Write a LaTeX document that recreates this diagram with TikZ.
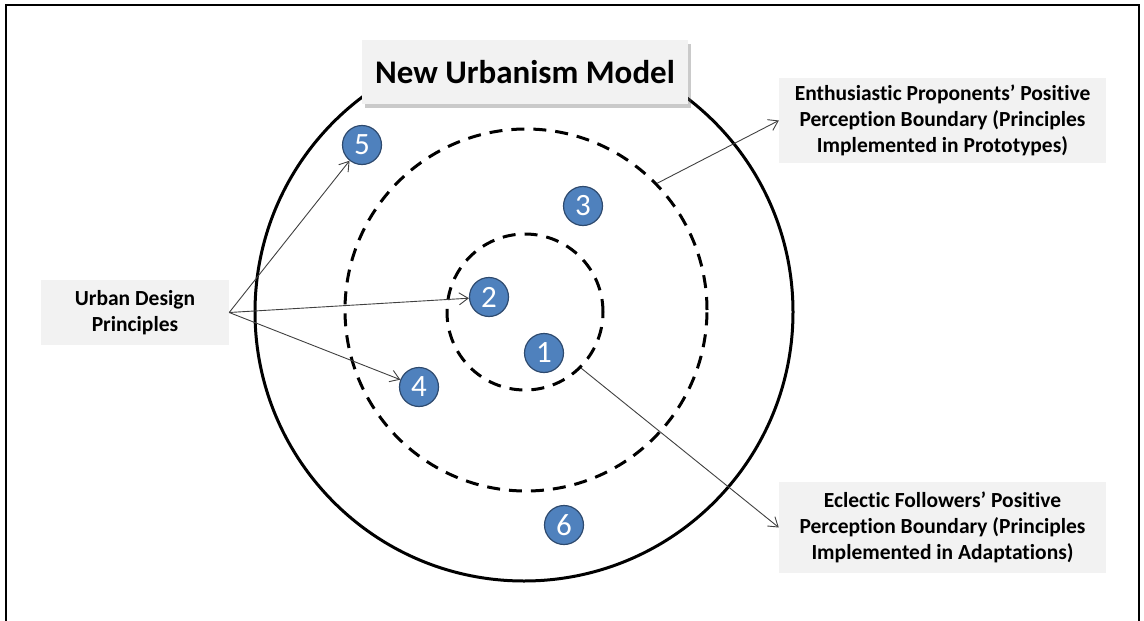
\documentclass[tikz,border=0pt]{standalone}
\usepackage{fontspec}
\setmainfont{Carlito}[Ligatures={NoCommon,NoRare}]
\usetikzlibrary{arrows.meta,shadows}
\definecolor{boxgray}{HTML}{F2F2F2}
\definecolor{numblue}{HTML}{4F81BD}
\definecolor{numedge}{HTML}{2E4A6E}
\definecolor{linegray}{HTML}{404040}
\tikzset{
  infobox/.style={fill=boxgray, draw=none, align=center, font=\fontsize{21.5}{26}\selectfont\bfseries, inner sep=0pt},
  numdot/.style={circle, fill=numblue, draw=numedge, line width=1.2pt, minimum size=39pt, inner sep=0pt, text=white, font=\fontsize{31}{31}\selectfont},
  ring/.style={circle, draw=black, line width=3pt, inner sep=0pt},
  dashring/.style={circle, draw=black, line width=3pt, dash pattern=on 13pt off 9pt, inner sep=0pt},
  pointer/.style={draw=linegray, line width=0.9pt, -{Straight Barb[length=9pt,width=12pt,line width=0.9pt]}}
}
\begin{document}
\begin{tikzpicture}[x=1pt,y=-1pt]
\useasboundingbox (0,0) rectangle (1144,621);
% frame
\draw[line width=2.2pt] (6,621) -- (6,5) -- (1139,5) -- (1139,621);
% rings
\node[ring, minimum size=538pt] (outer) at (524,312) {};
\node[dashring, minimum size=362pt] (mid) at (526,310) {};
\node[dashring, minimum size=156pt] (inner) at (525,312) {};
% title
\node[fill=boxgray, minimum width=326pt, minimum height=64pt, inner sep=0pt,
      drop shadow={shadow xshift=3pt, shadow yshift=-4pt, opacity=0.35, fill=black!60},
      font=\fontsize{33}{33}\selectfont\bfseries] (title) at (525,72) {New Urbanism Model};
% number dots
\node[numdot] (n5) at (362,145) {5};
\node[numdot] (n3) at (583,206) {3};
\node[numdot] (n2) at (489,297) {2};
\node[numdot] (n1) at (544,353) {1};
\node[numdot] (n4) at (419,387) {4};
\node[numdot] (n6) at (564,525) {6};
% text boxes
\node[infobox, minimum width=188pt, minimum height=65pt] (udp) at (135,312.5) {Urban Design\\Principles};
\node[infobox, minimum width=327pt, minimum height=85pt] (ent) at (942.5,120.5) {Enthusiastic Proponents’ Positive\\Perception Boundary (Principles\\Implemented in Prototypes)};
\node[infobox, minimum width=327pt, minimum height=91pt] (ecl) at (942.5,527.5) {Eclectic Followers’ Positive\\Perception Boundary (Principles\\Implemented in Adaptations)};
% connectors
\coordinate (src) at (udp.east);
\draw[pointer] (src) -- (n5);
\draw[pointer] (src) -- (n2);
\draw[pointer] (src) -- (n4);
\draw[pointer] (mid.44.5) -- (ent.west);
\draw[pointer] (inner.-45) -- (ecl.west);
\end{tikzpicture}
\end{document}
